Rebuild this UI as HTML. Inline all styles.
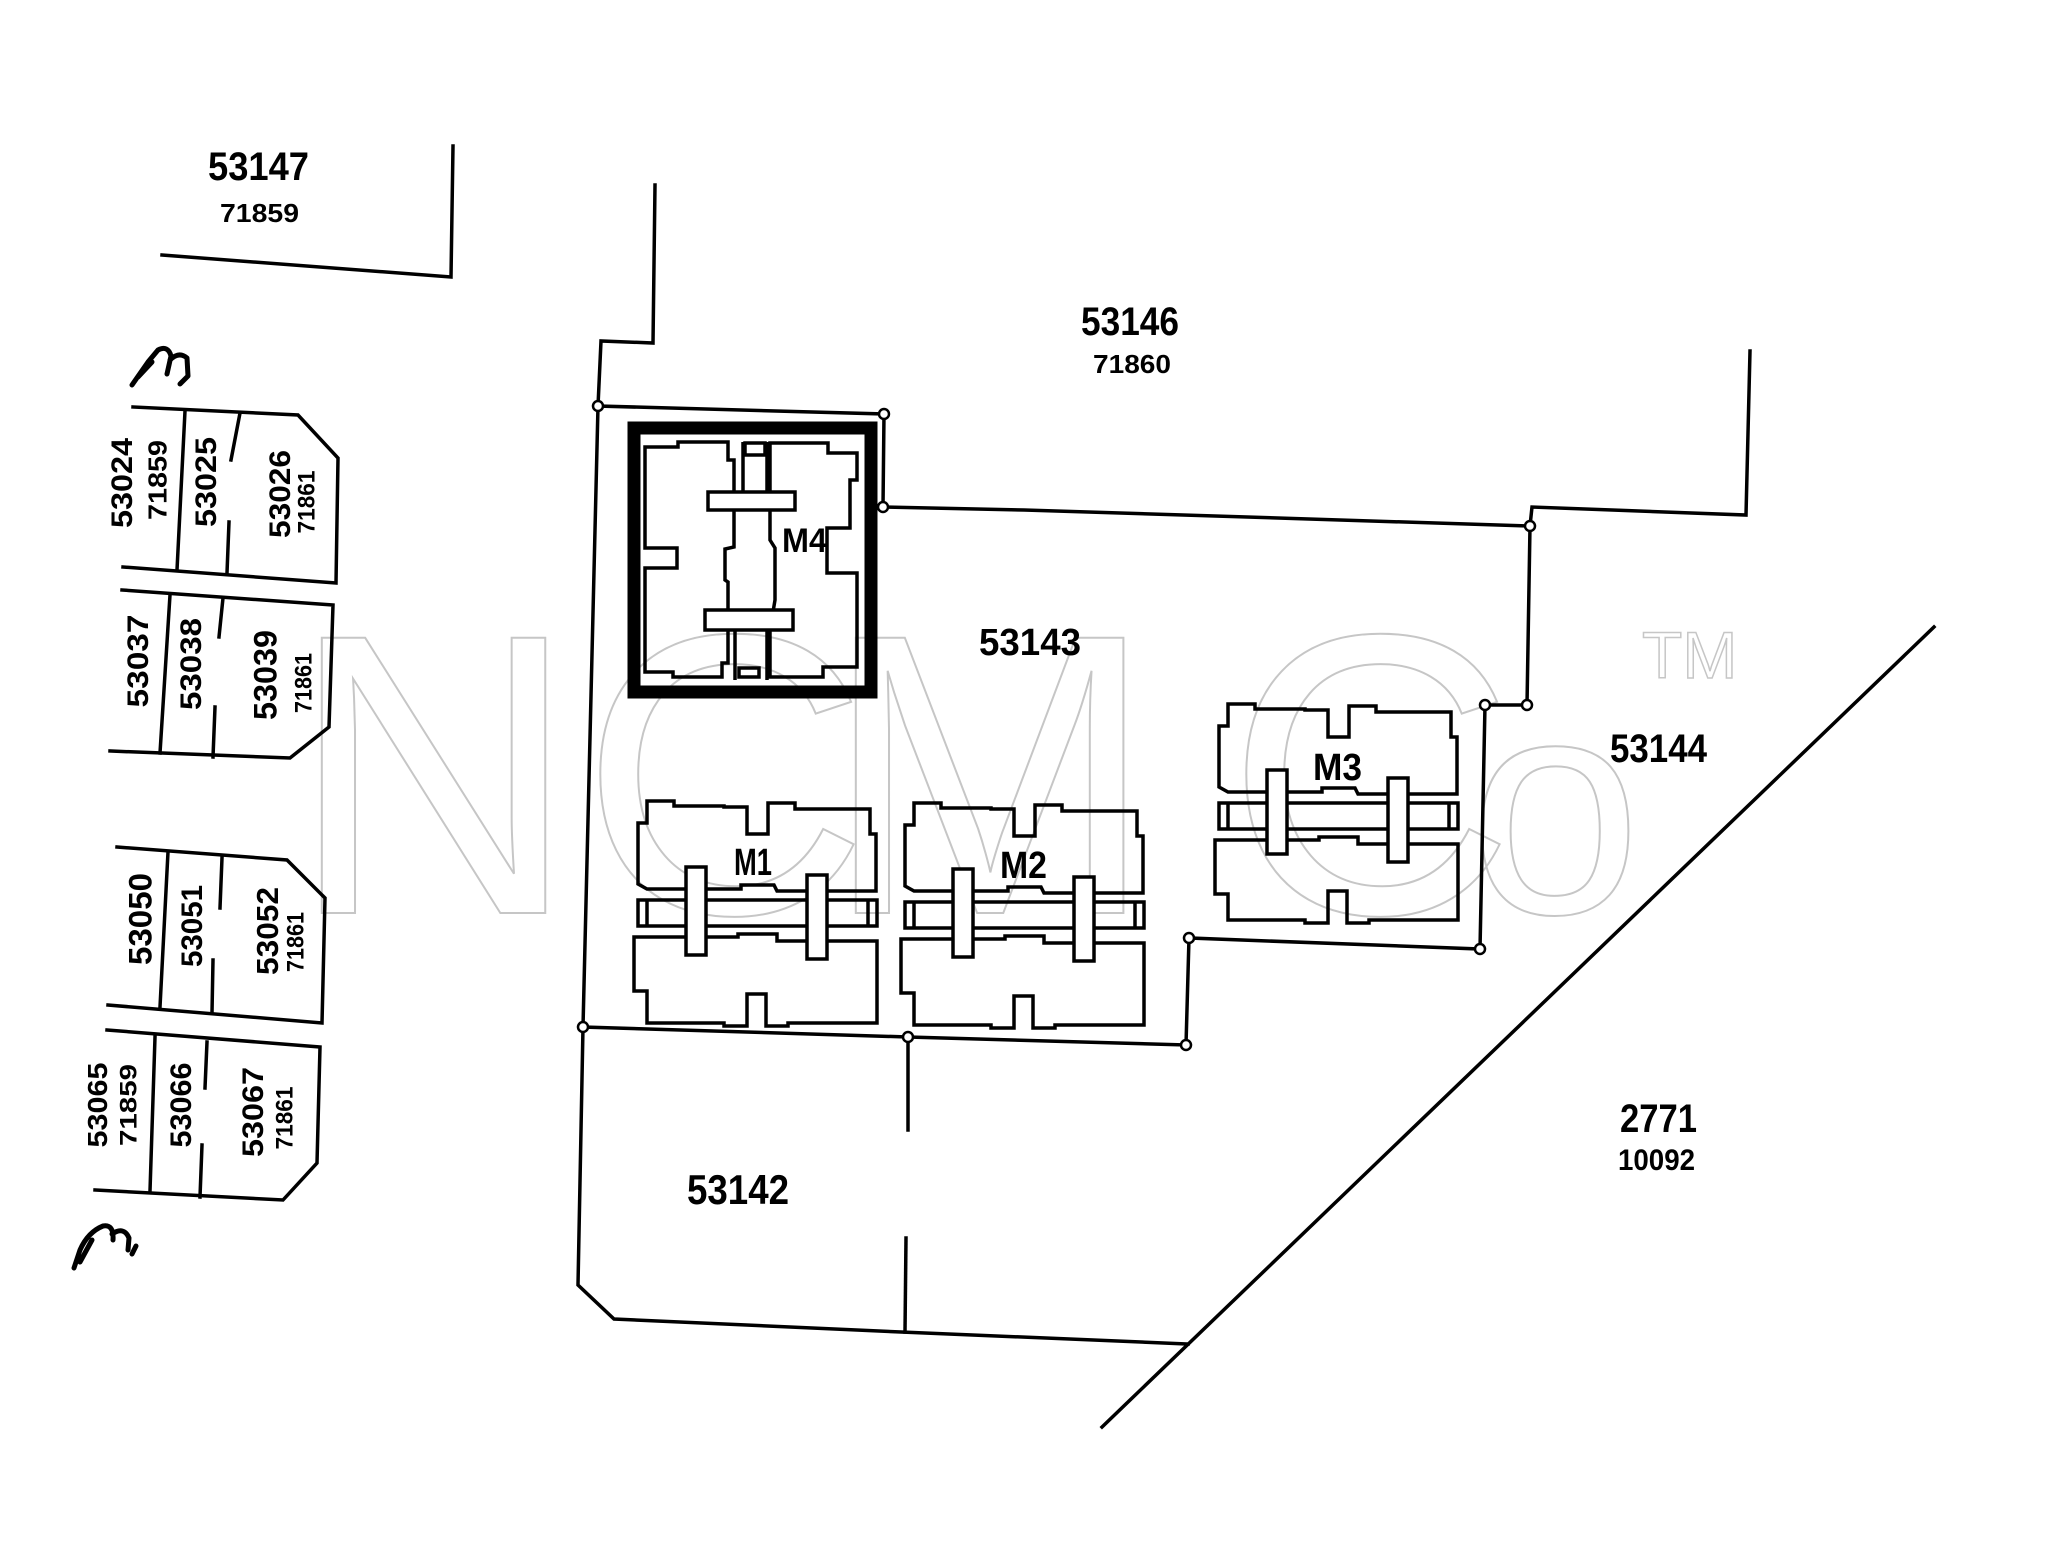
<!DOCTYPE html>
<html>
<head>
<meta charset="utf-8">
<style>
  html, body { margin: 0; padding: 0; background: #ffffff; }
  body { width: 2048px; height: 1546px; overflow: hidden; }
  svg { display: block; }
  .ln { fill: none; stroke: #000; stroke-width: 3.5; stroke-linejoin: miter; stroke-linecap: square; }
  .bd { fill: none; stroke: #000; stroke-width: 3.5; stroke-linejoin: miter; }
  .tc { fill: #fff; stroke: #000; stroke-width: 3.5; }
  .nd { fill: #fff; stroke: #000; stroke-width: 2.5; }
  .lb { font-family: "Liberation Sans", sans-serif; font-weight: bold; fill: #000; }
  .wm { font-family: "Liberation Sans", sans-serif; fill: none; stroke: #c6c6c6; stroke-width: 2; }
</style>
</head>
<body>
<svg width="2048" height="1546" viewBox="0 0 2048 1546" xmlns="http://www.w3.org/2000/svg">
  <rect x="0" y="0" width="2048" height="1546" fill="#fff"/>

  <!-- Watermark -->
  <g class="wm" font-size="400">
    <text x="289" y="913">N</text>
    <text x="580" y="913">C</text>
    <text x="823" y="913">M</text>
    <text x="1226" y="913">C</text>
    <text x="1469" y="913" font-size="310">o</text>
    <text x="1642" y="678" font-size="66" stroke-width="1.5">TM</text>
  </g>

  <!-- Parcel 53147 corner -->
  <path class="ln" d="M453,146 L451,277 L162,255"/>

  <!-- Main parcel lines -->
  <path class="ln" d="M655,185 L653,343 L601,341 L598,406"/>
  <path class="ln" d="M598,406 L884,414 L883,507 L1024,510 L1530,526"/>
  <path class="ln" d="M1530,526 L1532,507 L1746,515 L1750,351"/>
  <path class="ln" d="M1530,526 L1527,705 L1485,705 L1480,949 L1189,938 L1186,1045 L908,1037 L583,1027 L598,406"/>
  <path class="ln" d="M583,1027 L578,1285 L614,1319 L901,1332 L1188,1344"/>
  <path class="ln" d="M908,1037 L908,1130"/>
  <path class="ln" d="M906,1238 L905,1332"/>
  <path class="ln" d="M1934,627 L1102,1427"/>

  <!-- Left lot blocks -->
  <path class="ln" d="M133,407 L298,415 L338,458 L336,583 L123,567"/>
  <path class="ln" d="M185,411 L177,570 M240,413 L231,460 M229,522 L227,573"/>

  <path class="ln" d="M122,590 L333,605 L329,727 L290,758 L110,751"/>
  <path class="ln" d="M170,595 L160,753 M223,598 L219,637 M215,707 L213,757"/>

  <path class="ln" d="M117,847 L287,860 L325,898 L322,1023 L108,1005"/>
  <path class="ln" d="M168,852 L160,1007 M222,858 L220,908 M213,960 L212,1013"/>

  <path class="ln" d="M107,1030 L320,1047 L317,1163 L283,1200 L95,1190"/>
  <path class="ln" d="M155,1037 L150,1191 M207,1042 L205,1088 M202,1145 L200,1197"/>

  <!-- Squiggles -->
  <path d="M132,385 L148,362 L158,350 Q168,345 171,356 L167,374 M170,360 Q179,351 187,358 L188,376 L180,384 M138,377 L152,362"
        fill="none" stroke="#000" stroke-width="5" stroke-linecap="round" stroke-linejoin="round"/>
  <path d="M74,1268 L80,1250 Q88,1232 103,1226 Q114,1224 113,1240 M112,1234 Q124,1226 129,1238 L128,1250 M132,1254 L136,1246 M80,1262 L92,1240"
        fill="none" stroke="#000" stroke-width="5" stroke-linecap="round" stroke-linejoin="round"/>

  <!-- M4 building -->
  <rect x="634" y="428" width="237" height="264" fill="none" stroke="#000" stroke-width="13"/>
  <path class="bd" d="M645,447 H678 V442 H728 V460 H734 V547 L725,549 V580 L728,582 V663 H722 V677 H673 V672 H645 V568 H677 V548 H645 Z"/>
  <path class="bd" d="M770,443 H828 V453 H857 V480 H850 V528 H827 V573 H857 V667 H823 V677 H770 V630 L775,600 V548 L770,540 V443 Z"/>
  <path class="bd" d="M743,442 V492 M767,442 V492"/>
  <rect class="bd" x="745" y="443" width="20" height="12"/>
  <rect class="tc" x="708" y="492" width="87" height="18"/>
  <rect class="tc" x="705" y="610" width="88" height="20"/>
  <path class="bd" d="M735,630 V680 M767,630 V680"/>
  <rect class="bd" x="739" y="668" width="20" height="9"/>

  <!-- M1 building (template) -->
  <g id="m1">
    <path class="bd" d="M647,801 H674 V806 H724 V807 H747 V834 H768 V803 H795 V809 H870 V834 H876 V891 H777 L774,885 H741 V889 H647 L638,884 V823 H647 Z"/>
    <rect class="bd" x="638" y="900" width="239" height="26"/>
    <path class="bd" d="M647,900 V926 M868,900 V926"/>
    <path class="bd" d="M634,937 H738 V934 H777 V941 H877 V1023 H788 V1026 H766 V994 H747 V1026 H724 V1023 H647 V991 H634 Z"/>
    <rect class="tc" x="686" y="867" width="20" height="88"/>
    <rect class="tc" x="807" y="875" width="20" height="84"/>
  </g>
  <!-- M2 building -->
  <g transform="translate(267,2)">
    <path class="bd" d="M647,801 H674 V806 H724 V807 H747 V834 H768 V803 H795 V809 H870 V834 H876 V891 H777 L774,885 H741 V889 H647 L638,884 V823 H647 Z"/>
    <rect class="bd" x="638" y="900" width="239" height="26"/>
    <path class="bd" d="M647,900 V926 M868,900 V926"/>
    <path class="bd" d="M634,937 H738 V934 H777 V941 H877 V1023 H788 V1026 H766 V994 H747 V1026 H724 V1023 H647 V991 H634 Z"/>
    <rect class="tc" x="686" y="867" width="20" height="88"/>
    <rect class="tc" x="807" y="875" width="20" height="84"/>
  </g>
  <!-- M3 building -->
  <g transform="translate(581,-97)">
    <path class="bd" d="M647,801 H674 V806 H724 V807 H747 V834 H768 V803 H795 V809 H870 V834 H876 V891 H777 L774,885 H741 V889 H647 L638,884 V823 H647 Z"/>
    <rect class="bd" x="638" y="900" width="239" height="26"/>
    <path class="bd" d="M647,900 V926 M868,900 V926"/>
    <path class="bd" d="M634,937 H738 V934 H777 V941 H877 V1017 H788 V1020 H766 V988 H747 V1020 H724 V1017 H647 V991 H634 Z"/>
    <rect class="tc" x="686" y="867" width="20" height="84"/>
    <rect class="tc" x="807" y="875" width="20" height="84"/>
  </g>

  <!-- Nodes -->
  <circle class="nd" cx="598" cy="406" r="5"/>
  <circle class="nd" cx="884" cy="414" r="5"/>
  <circle class="nd" cx="883" cy="507" r="5"/>
  <circle class="nd" cx="1530" cy="526" r="5"/>
  <circle class="nd" cx="1527" cy="705" r="5"/>
  <circle class="nd" cx="1485" cy="705" r="5"/>
  <circle class="nd" cx="1480" cy="949" r="5"/>
  <circle class="nd" cx="1189" cy="938" r="5"/>
  <circle class="nd" cx="1186" cy="1045" r="5"/>
  <circle class="nd" cx="908" cy="1037" r="5"/>
  <circle class="nd" cx="583" cy="1027" r="5"/>

  <!-- Building labels -->
  <text class="lb" x="782" y="552" font-size="34" textLength="45" lengthAdjust="spacingAndGlyphs">M4</text>
  <text class="lb" x="734" y="875" font-size="38" textLength="38" lengthAdjust="spacingAndGlyphs">M1</text>
  <text class="lb" x="1000" y="878" font-size="38" textLength="47" lengthAdjust="spacingAndGlyphs">M2</text>
  <text class="lb" x="1313" y="780" font-size="38" textLength="49" lengthAdjust="spacingAndGlyphs">M3</text>

  <!-- Parcel labels -->
  <text class="lb" x="208" y="180" font-size="40" textLength="101" lengthAdjust="spacingAndGlyphs">53147</text>
  <text class="lb" x="220" y="222" font-size="26" textLength="79" lengthAdjust="spacingAndGlyphs">71859</text>
  <text class="lb" x="1081" y="335" font-size="40" textLength="98" lengthAdjust="spacingAndGlyphs">53146</text>
  <text class="lb" x="1093" y="373" font-size="26" textLength="78" lengthAdjust="spacingAndGlyphs">71860</text>
  <text class="lb" x="979" y="655" font-size="38" textLength="102" lengthAdjust="spacingAndGlyphs">53143</text>
  <text class="lb" x="1610" y="762" font-size="40" textLength="97" lengthAdjust="spacingAndGlyphs">53144</text>
  <text class="lb" x="687" y="1204" font-size="42" textLength="102" lengthAdjust="spacingAndGlyphs">53142</text>
  <text class="lb" x="1620" y="1132" font-size="40" textLength="77" lengthAdjust="spacingAndGlyphs">2771</text>
  <text class="lb" x="1618" y="1170" font-size="30" textLength="77" lengthAdjust="spacingAndGlyphs">10092</text>

  <!-- Rotated lot labels -->
  <g class="lb" text-anchor="middle">
    <text transform="translate(121,483) rotate(-90)" y="10.8" font-size="30" textLength="90" lengthAdjust="spacingAndGlyphs">53024</text>
    <text transform="translate(157,480) rotate(-90)" y="9.4" font-size="26" textLength="80" lengthAdjust="spacingAndGlyphs">71859</text>
    <text transform="translate(205,482) rotate(-90)" y="10.8" font-size="30" textLength="90" lengthAdjust="spacingAndGlyphs">53025</text>
    <text transform="translate(279,494) rotate(-90)" y="10.8" font-size="30" textLength="88" lengthAdjust="spacingAndGlyphs">53026</text>
    <text transform="translate(306,502) rotate(-90)" y="8.6" font-size="24" textLength="63" lengthAdjust="spacingAndGlyphs">71861</text>

    <text transform="translate(137,661) rotate(-90)" y="10.8" font-size="30" textLength="93" lengthAdjust="spacingAndGlyphs">53037</text>
    <text transform="translate(190,664) rotate(-90)" y="10.8" font-size="30" textLength="92" lengthAdjust="spacingAndGlyphs">53038</text>
    <text transform="translate(265,675) rotate(-90)" y="11.5" font-size="32" textLength="90" lengthAdjust="spacingAndGlyphs">53039</text>
    <text transform="translate(303,683) rotate(-90)" y="8.6" font-size="24" textLength="60" lengthAdjust="spacingAndGlyphs">71861</text>

    <text transform="translate(140,919) rotate(-90)" y="11.5" font-size="32" textLength="92" lengthAdjust="spacingAndGlyphs">53050</text>
    <text transform="translate(191,926) rotate(-90)" y="10.8" font-size="30" textLength="82" lengthAdjust="spacingAndGlyphs">53051</text>
    <text transform="translate(267,931) rotate(-90)" y="11.2" font-size="31" textLength="88" lengthAdjust="spacingAndGlyphs">53052</text>
    <text transform="translate(295,942) rotate(-90)" y="8.6" font-size="24" textLength="60" lengthAdjust="spacingAndGlyphs">71861</text>

    <text transform="translate(97,1105) rotate(-90)" y="10" font-size="28" textLength="85" lengthAdjust="spacingAndGlyphs">53065</text>
    <text transform="translate(128,1105) rotate(-90)" y="8.6" font-size="24" textLength="82" lengthAdjust="spacingAndGlyphs">71859</text>
    <text transform="translate(180,1105) rotate(-90)" y="10.8" font-size="30" textLength="85" lengthAdjust="spacingAndGlyphs">53066</text>
    <text transform="translate(252,1112) rotate(-90)" y="10.8" font-size="30" textLength="90" lengthAdjust="spacingAndGlyphs">53067</text>
    <text transform="translate(284,1118) rotate(-90)" y="8.6" font-size="24" textLength="63" lengthAdjust="spacingAndGlyphs">71861</text>
  </g>
</svg>
</body>
</html>
